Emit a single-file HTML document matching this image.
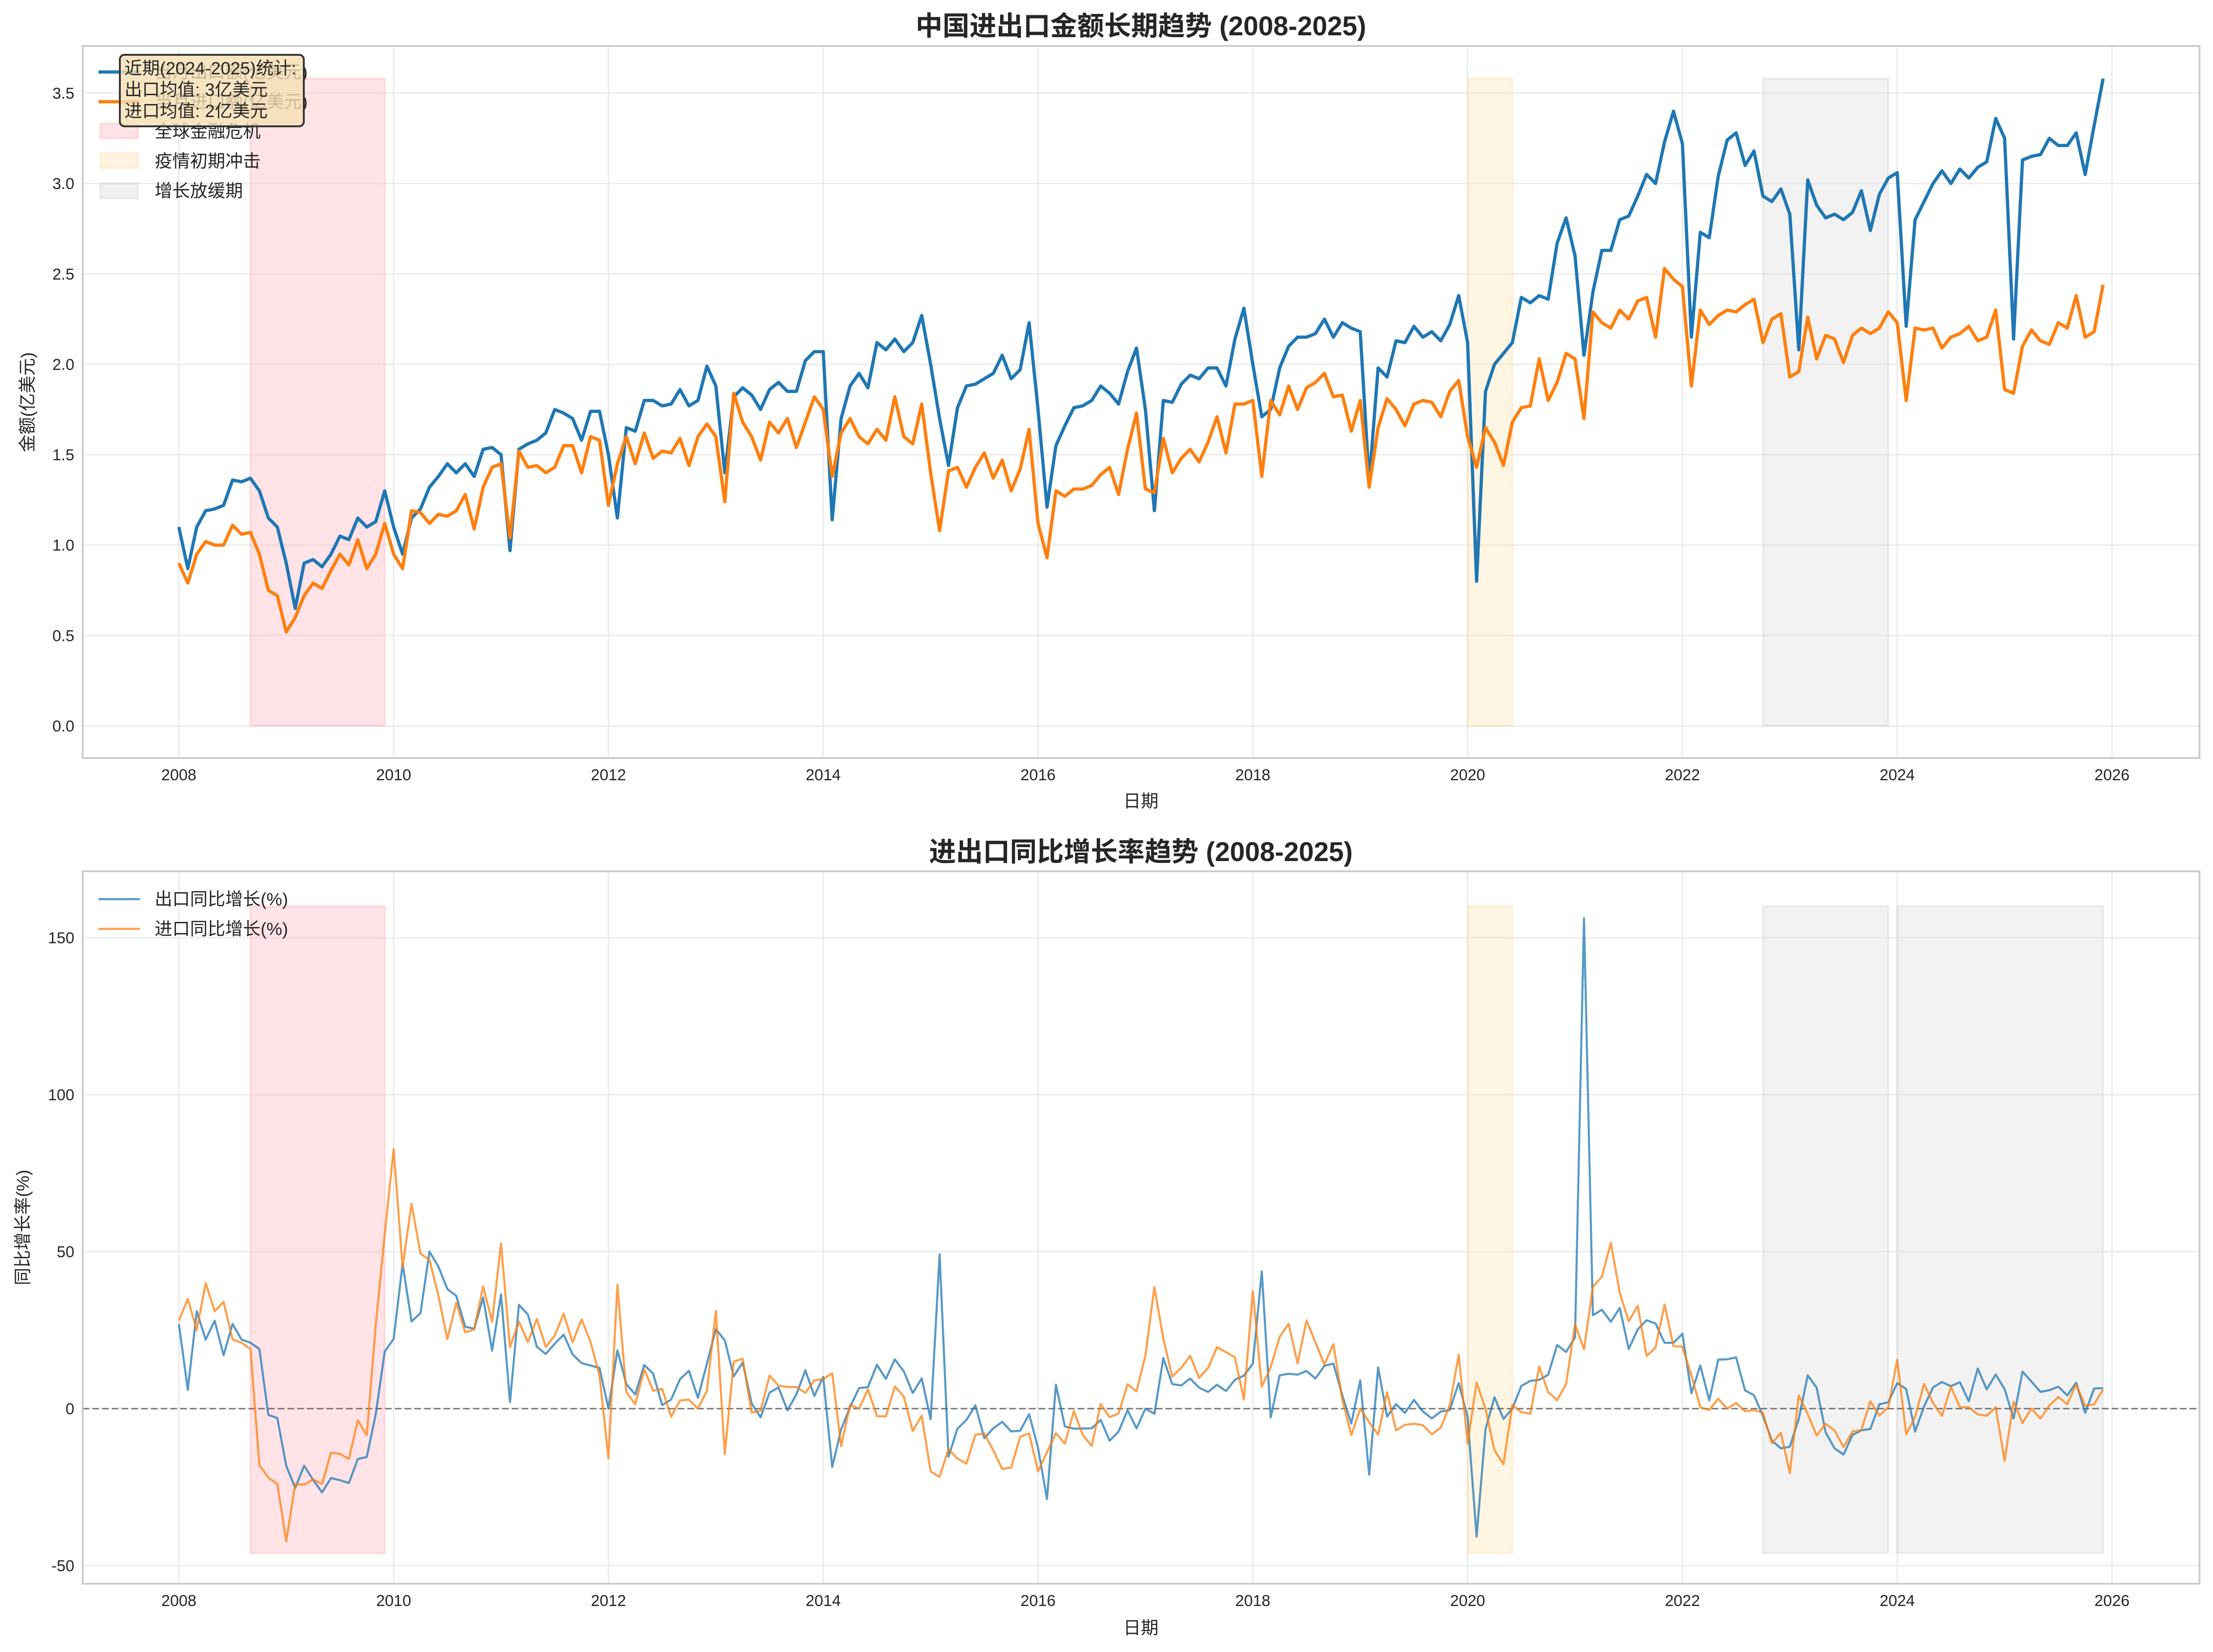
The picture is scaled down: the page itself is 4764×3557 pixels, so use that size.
<!DOCTYPE html>
<html><head><meta charset="utf-8">
<style>
html,body{margin:0;padding:0;background:#fff;}
svg{display:block;}
text{font-family:"Liberation Sans","Noto Sans CJK SC",sans-serif;fill:#262626;}
</style></head>
<body>
<svg id="s" width="4764" height="3557" xmlns="http://www.w3.org/2000/svg">
<rect width="4764" height="3557" fill="#fff"/>
<g id="g"></g>
<text x="2456" y="76" font-size="58" font-weight="bold" text-anchor="middle">中国进出口金额长期趋势 (2008-2025)</text>
<text x="2456" y="1854" font-size="58" font-weight="bold" text-anchor="middle">进出口同比增长率趋势 (2008-2025)</text>
<text x="2456" y="1738" font-size="38" text-anchor="middle">日期</text>
<text x="2456" y="3518" font-size="38" text-anchor="middle">日期</text>
<text transform="translate(72,866) rotate(-90)" font-size="38" text-anchor="middle">金额(亿美元)</text>
<text transform="translate(62,2643) rotate(-90)" font-size="38" text-anchor="middle">同比增长率(%)</text>
</svg>
<script>
var ex=[1.10,0.87,1.1,1.19,1.2,1.22,1.36,1.35,1.37,1.3,1.15,1.1,
0.9,0.65,0.9,0.92,0.88,0.95,1.05,1.03,1.15,1.1,1.13,1.3,
1.1,0.95,1.15,1.2,1.32,1.38,1.45,1.4,1.45,1.38,1.53,1.54,
1.5,0.97,1.53,1.56,1.58,1.62,1.75,1.73,1.7,1.58,1.74,1.74,
1.5,1.15,1.65,1.63,1.8,1.8,1.77,1.78,1.86,1.77,1.8,1.99,
1.88,1.4,1.82,1.87,1.83,1.75,1.86,1.9,1.85,1.85,2.02,2.07,
2.07,1.14,1.7,1.88,1.95,1.87,2.12,2.08,2.14,2.07,2.12,2.27,
2.0,1.7,1.44,1.76,1.88,1.89,1.92,1.95,2.05,1.92,1.97,2.23,
1.75,1.21,1.55,1.66,1.76,1.77,1.8,1.88,1.84,1.78,1.96,2.09,
1.75,1.19,1.8,1.79,1.89,1.94,1.92,1.98,1.98,1.88,2.14,2.31,
2.0,1.71,1.75,1.98,2.1,2.15,2.15,2.17,2.25,2.15,2.23,2.2,
2.18,1.35,1.98,1.93,2.13,2.12,2.21,2.15,2.18,2.13,2.22,2.38,
2.12,0.8,1.85,2.0,2.06,2.12,2.37,2.34,2.38,2.36,2.67,2.81,
2.6,2.05,2.4,2.63,2.63,2.8,2.82,2.93,3.05,3.0,3.23,3.4,
3.22,2.15,2.73,2.7,3.04,3.24,3.28,3.1,3.18,2.93,2.9,2.97,
2.83,2.08,3.02,2.88,2.81,2.83,2.8,2.84,2.96,2.74,2.94,3.03,
3.06,2.21,2.8,2.9,3.0,3.07,3.0,3.08,3.03,3.09,3.12,3.36,
3.25,2.14,3.13,3.15,3.16,3.25,3.21,3.21,3.28,3.05,3.32,3.58];
var im=[0.9,0.79,0.95,1.02,1.0,1.0,1.11,1.06,1.07,0.95,0.75,0.72,
0.52,0.6,0.72,0.79,0.76,0.86,0.95,0.89,1.03,0.87,0.95,1.12,
0.95,0.87,1.19,1.18,1.12,1.17,1.16,1.19,1.28,1.09,1.32,1.43,
1.45,1.04,1.52,1.43,1.44,1.4,1.43,1.55,1.55,1.4,1.6,1.58,
1.22,1.45,1.6,1.45,1.62,1.48,1.52,1.51,1.59,1.44,1.6,1.67,
1.6,1.24,1.84,1.68,1.6,1.47,1.68,1.62,1.7,1.54,1.68,1.82,
1.75,1.38,1.62,1.7,1.6,1.56,1.64,1.58,1.82,1.6,1.56,1.78,
1.4,1.08,1.41,1.43,1.32,1.43,1.51,1.37,1.47,1.3,1.42,1.64,
1.12,0.93,1.3,1.27,1.31,1.31,1.33,1.39,1.43,1.28,1.53,1.73,
1.31,1.29,1.59,1.4,1.48,1.53,1.46,1.57,1.71,1.51,1.78,1.78,
1.8,1.38,1.8,1.72,1.88,1.75,1.87,1.9,1.95,1.82,1.83,1.63,
1.8,1.32,1.65,1.81,1.75,1.66,1.78,1.8,1.79,1.71,1.85,1.91,
1.6,1.43,1.65,1.57,1.44,1.68,1.76,1.77,2.03,1.8,1.9,2.06,
2.03,1.7,2.29,2.23,2.2,2.3,2.25,2.35,2.37,2.15,2.53,2.47,
2.43,1.88,2.3,2.22,2.27,2.3,2.29,2.33,2.36,2.12,2.25,2.28,
1.93,1.96,2.26,2.03,2.16,2.14,2.01,2.16,2.2,2.17,2.2,2.29,
2.23,1.8,2.2,2.19,2.2,2.09,2.15,2.17,2.21,2.13,2.15,2.3,
1.86,1.84,2.1,2.19,2.13,2.11,2.23,2.2,2.38,2.15,2.18,2.44];
var ey=[27,6,31,22,28,17,27,22,21,19,-2,-3], iy=[28,35,25,40,31,34,22,21,19,-18,-22,-24];
for(var i=12;i<ex.length;i++){ey.push((ex[i]/ex[i-12]-1)*100);iy.push((im[i]/im[i-12]-1)*100);}
var X=function(t){return 385+(t-2008)*231.2;};
var tm=function(i){return 2008+Math.floor(i/12)+((i%12)*30.44)/365.25;};
var Y1=function(v){return 1563-389.3*v;};
var Y2=function(v){return 3033-6.76*v;};
var h='';
function rect(x1,y1,x2,y2,f,s){h+='<rect x="'+x1+'" y="'+y1+'" width="'+(x2-x1)+'" height="'+(y2-y1)+'" fill="'+f+'" stroke="'+s+'" stroke-width="4"/>';}
function line(x1,y1,x2,y2,c,w,extra){h+='<line x1="'+x1+'" y1="'+y1+'" x2="'+x2+'" y2="'+y2+'" stroke="'+c+'" stroke-width="'+w+'" '+(extra||'')+'/>';}
function txt(x,y,s,a,fs){h+='<text x="'+x+'" y="'+y+'" font-size="'+(fs||34)+'" text-anchor="'+(a||'start')+'">'+s+'</text>';}
function poly(arr,Y,c,w,op){var p=[];for(var i=0;i<arr.length;i++)p.push(X(tm(i)).toFixed(1)+','+Y(arr[i]).toFixed(1));h+='<polyline points="'+p.join(' ')+'" fill="none" stroke="'+c+'" stroke-width="'+w+'" stroke-linejoin="round" stroke-opacity="'+op+'"/>';}
var panels=[{t:99,b:1632,Y:Y1,ticks:[0,0.5,1,1.5,2,2.5,3,3.5],fmt:function(v){return v.toFixed(1);},top:3.58,bot:0},
{t:1876,b:3410,Y:Y2,ticks:[-50,0,50,100,150],fmt:function(v){return ''+v;},top:160,bot:-46}];
panels.forEach(function(P,k){
 for(var yr=2008;yr<=2026;yr+=2){line(X(yr),P.t,X(yr),P.b,'#ebebeb',3);txt(X(yr),P.b+48,yr,'middle');}
 P.ticks.forEach(function(v){line(178,P.Y(v),4735,P.Y(v),'#ebebeb',3);txt(160,P.Y(v)+12,P.fmt(v),'end');});
 var yt=P.Y(P.top),yb=P.Y(P.bot);
 rect(X(2008+8/12),yt,X(2009+11/12),yb,'rgba(255,182,193,0.38)','rgba(255,160,170,0.3)');
 rect(X(2020),yt,X(2020+5/12),yb,'rgba(255,228,181,0.38)','rgba(255,210,150,0.3)');
 rect(X(2022+9/12),yt,X(2023+11/12),yb,'rgba(220,220,220,0.38)','rgba(200,200,200,0.3)');
 if(k==1)rect(X(2024),yt,X(2025+11/12),yb,'rgba(220,220,220,0.38)','rgba(200,200,200,0.3)');
});
line(178,Y2(0),4735,Y2(0),'#555',3,'stroke-dasharray="14,7" stroke-opacity="0.8"');
poly(ex,Y1,'#1f77b4',7,1);poly(im,Y1,'#ff7f0e',7,1);
poly(ey,Y2,'#1f77b4',4.5,0.75);poly(iy,Y2,'#ff7f0e',4.5,0.75);
h+='<rect x="178" y="99" width="4557" height="1533" fill="none" stroke="#ccc" stroke-width="4"/>';
h+='<rect x="178" y="1876" width="4557" height="1534" fill="none" stroke="#ccc" stroke-width="4"/>';
// legend top
line(212,155,301,155,'#1f77b4',7);line(212,219,301,219,'#ff7f0e',7);
txt(333,168,'当月出口额(亿美元)','start',38);txt(333,232,'当月进口额(亿美元)','start',38);
rect(216,266,297,298,'rgba(255,182,193,0.4)','rgba(255,160,170,0.3)');txt(333,296,'全球金融危机','start',38);
rect(216,330,297,362,'rgba(255,228,181,0.4)','rgba(255,210,150,0.3)');txt(333,360,'疫情初期冲击','start',38);
rect(216,395,297,427,'rgba(220,220,220,0.4)','rgba(200,200,200,0.3)');txt(333,424,'增长放缓期','start',38);
h+='<rect x="258" y="118" width="396" height="154" rx="10" fill="rgba(245,222,179,0.8)" stroke="#333" stroke-width="4"/>';
txt(268,160,'近期(2024-2025)统计:','start',38);txt(268,206,'出口均值: 3亿美元','start',38);txt(268,252,'进口均值: 2亿美元','start',38);
// legend bottom
line(212,1936,301,1936,'#1f77b4',4.5,'stroke-opacity="0.75"');line(212,2000,301,2000,'#ff7f0e',4.5,'stroke-opacity="0.75"');
txt(333,1949,'出口同比增长(%)','start',38);txt(333,2013,'进口同比增长(%)','start',38);
document.getElementById('g').innerHTML=h;
</script>
</body></html>
